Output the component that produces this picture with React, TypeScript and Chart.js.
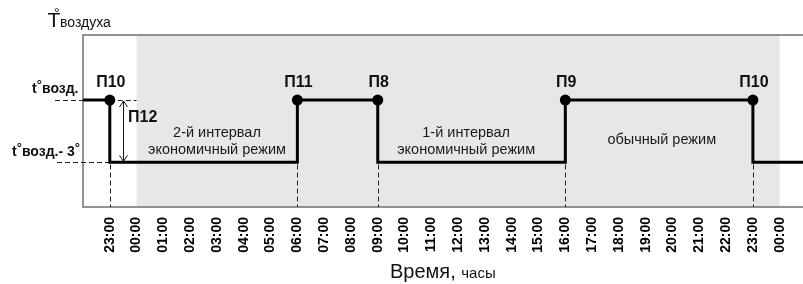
import React, { useEffect, useRef } from "react";
import { Chart, registerables } from "chart.js";

Chart.register(...registerables);

// ---- data ----
const tHigh = 0; // t° возд.
const tLow = -3; // t° возд. - 3°
const stepHours = [-2, -1, 6, 9, 16, 23, 26];
const stepLevels = [0, -3, 0, -3, 0, -3, -3];
const switchHours = [-1, 6, 9, 16, 23];
const switchLabels = ["П10", "П11", "П8", "П9", "П10"];
const tickHours = [-1, 0, 1, 2, 3, 4, 5, 6, 7, 8, 9, 10, 11, 12, 13, 14, 15, 16, 17, 18, 19, 20, 21, 22, 23, 24];
const tickLabels = [
  "23:00", "00:00", "01:00", "02:00", "03:00", "04:00", "05:00", "06:00", "07:00", "08:00",
  "09:00", "10:00", "11:00", "12:00", "13:00", "14:00", "15:00", "16:00", "17:00", "18:00",
  "19:00", "20:00", "21:00", "22:00", "23:00", "00:00",
];
const shadedRange = [0, 24];
const modeLabelHours = [3, 12.3, 19.6];
const modeLabelLines = [
  ["2-й интервал", "экономичный режим"],
  ["1-й интервал", "экономичный режим"],
  ["обычный режим"],
];
const deltaArrowHour = -0.5;
const deltaLabel = "П12";
const xMin = -2;
const xMax = 24.87;
const yMin = -5.15;
const yMax = 3.13;

const FONT = "'Liberation Sans', Arial, sans-serif";

type Part = [string, string, number?];

function drawRich(ctx: CanvasRenderingContext2D, parts: Part[], x: number, y: number, align: "left" | "right" | "center") {
  ctx.textAlign = "left";
  ctx.textBaseline = "alphabetic";
  const widths = parts.map(([t, f]) => {
    ctx.font = f;
    return ctx.measureText(t).width;
  });
  const total = widths.reduce((s, w) => s + w, 0);
  let cx = align === "right" ? x - total : align === "center" ? x - total / 2 : x;
  parts.forEach(([t, f, dy], i) => {
    ctx.font = f;
    ctx.fillText(t, cx, y + (dy || 0));
    cx += widths[i];
  });
}

function dashLine(ctx: CanvasRenderingContext2D, x1: number, y1: number, x2: number, y2: number) {
  ctx.beginPath();
  ctx.moveTo(x1, y1);
  ctx.lineTo(x2, y2);
  ctx.stroke();
}

const decorPlugin = {
  id: "decor",
  beforeDatasetsDraw(chart: any) {
    const { ctx, chartArea: a, scales } = chart;
    const x = scales.x;
    const y = scales.y;
    ctx.save();
    const x0 = x.getPixelForValue(shadedRange[0]);
    const x1 = x.getPixelForValue(shadedRange[1]);
    ctx.fillStyle = "#e6e7e9";
    ctx.fillRect(x0, a.top, x1 - x0, a.bottom - a.top);

    ctx.strokeStyle = "#707070";
    ctx.lineWidth = 1.5;
    ctx.beginPath();
    ctx.moveTo(a.right + 2, a.top);
    ctx.lineTo(a.left, a.top);
    ctx.lineTo(a.left, a.bottom);
    ctx.lineTo(a.right + 2, a.bottom);
    ctx.stroke();

    const yH = Math.round(y.getPixelForValue(tHigh)) + 0.5;
    const yL = Math.round(y.getPixelForValue(tLow)) + 0.5;
    ctx.setLineDash([5, 3]);
    ctx.lineWidth = 1;
    ctx.strokeStyle = "#222";
    switchHours.forEach((h) => {
      const px = Math.round(x.getPixelForValue(h)) + 0.5;
      dashLine(ctx, px, yL + 2, px, a.bottom);
    });
    const xFirst = x.getPixelForValue(switchHours[0]);
    dashLine(ctx, 55, yH, a.left, yH);
    dashLine(ctx, xFirst, yH, x.getPixelForValue(shadedRange[0]), yH);
    dashLine(ctx, 57, yL, xFirst, yL);
    ctx.restore();
  },
  afterDatasetsDraw(chart: any) {
    const { ctx, scales } = chart;
    const x = scales.x;
    const y = scales.y;
    const yH = y.getPixelForValue(tHigh);
    const yL = y.getPixelForValue(tLow);
    ctx.save();
    ctx.fillStyle = "#111";

    // switch point labels
    ctx.font = `bold 16px ${FONT}`;
    ctx.textAlign = "center";
    ctx.textBaseline = "alphabetic";
    switchHours.forEach((h, i) => {
      ctx.fillText(switchLabels[i], x.getPixelForValue(h) + 1, yH - 13);
    });

    // delta arrow
    const ax = Math.round(x.getPixelForValue(deltaArrowHour)) + 0.5;
    ctx.strokeStyle = "#111";
    ctx.lineWidth = 1;
    ctx.beginPath();
    ctx.moveTo(ax, yH + 1);
    ctx.lineTo(ax, yL - 1);
    ctx.moveTo(ax - 4, yH + 7);
    ctx.lineTo(ax, yH + 1);
    ctx.lineTo(ax + 4, yH + 7);
    ctx.moveTo(ax - 4, yL - 7);
    ctx.lineTo(ax, yL - 1);
    ctx.lineTo(ax + 4, yL - 7);
    ctx.stroke();
    ctx.font = `bold 16px ${FONT}`;
    ctx.textAlign = "left";
    ctx.fillText(deltaLabel, ax + 4.5, yH + 22);

    // mode labels
    ctx.font = `14.5px ${FONT}`;
    ctx.textAlign = "center";
    ctx.fillStyle = "#1a1a1a";
    modeLabelLines.forEach((lines, i) => {
      const cx = x.getPixelForValue(modeLabelHours[i]);
      if (lines.length === 2) {
        ctx.fillText(lines[0], cx, yL - 25);
        ctx.fillText(lines[1], cx, yL - 8);
      } else {
        ctx.fillText(lines[0], cx, yL - 18);
      }
    });

    // level labels
    ctx.fillStyle = "#111";
    const b14 = `bold 14px ${FONT}`;
    const b13 = `bold 13px ${FONT}`;
    drawRich(ctx, [["t", b14], ["°", b13, -4], ["возд.", b14]], 78.5, yH - 7.5, "right");
    drawRich(ctx, [["t", b14], ["°", b13, -4], ["возд.- 3", b14], ["°", b13, -4]], 80, yL - 6, "right");

    // y title
    ctx.fillStyle = "#111";
    ctx.font = `21px ${FONT}`;
    ctx.textAlign = "left";
    ctx.fillText("T", 47.5, 27);
    ctx.font = `14px ${FONT}`;
    ctx.fillText("°", 54, 17.5);
    ctx.fillText("воздуха", 60, 27);

    // x title
    drawRich(ctx, [["Время, ", `20px ${FONT}`], ["часы", `15px ${FONT}`]], 390, 278, "left");
    ctx.restore();
  },
};

export default function App() {
  const ref = useRef<HTMLCanvasElement | null>(null);
  useEffect(() => {
    if (!ref.current) return;
    const chart = new Chart(ref.current, {
      type: "line",
      data: {
        datasets: [
          {
            data: stepHours.map((h, i) => ({ x: h, y: stepLevels[i] })),
            stepped: "before",
            borderColor: "#000",
            borderWidth: 3,
            pointRadius: 0,
            fill: false,
          },
          {
            data: switchHours.map((h) => ({ x: h, y: tHigh })),
            showLine: false,
            pointRadius: 5.5,
            pointBackgroundColor: "#000",
            pointBorderColor: "#000",
            pointBorderWidth: 0,
          },
        ],
      } as any,
      options: {
        animation: false,
        responsive: false,
        events: [],
        layout: { autoPadding: false, padding: { left: 83, top: 35, right: 0, bottom: 0 } },
        plugins: { legend: { display: false }, tooltip: { enabled: false } },
        scales: {
          x: {
            type: "linear",
            min: xMin,
            max: xMax,
            grid: { display: false, drawTicks: false },
            border: { display: false },
            ticks: {
              autoSkip: false,
              maxRotation: 90,
              minRotation: 90,
              padding: 10,
              color: "#000",
              font: { family: FONT, size: 14, weight: "bold" },
              callback: (_v: any, i: number) => tickLabels[i],
            },
            afterBuildTicks: (s: any) => {
              s.ticks = tickHours.map((v) => ({ value: v }));
            },
            afterFit: (s: any) => {
              s.height = 77;
              s.paddingLeft = 0;
              s.paddingRight = 0;
            },
          },
          y: { display: false, min: yMin, max: yMax },
        },
      } as any,
      plugins: [decorPlugin],
    });
    return () => chart.destroy();
  }, []);
  return (
    <div style={{ position: "absolute", left: 0, top: 0, width: 803, height: 284, background: "#fff" }}>
      <canvas ref={ref} width={803} height={284} />
    </div>
  );
}
